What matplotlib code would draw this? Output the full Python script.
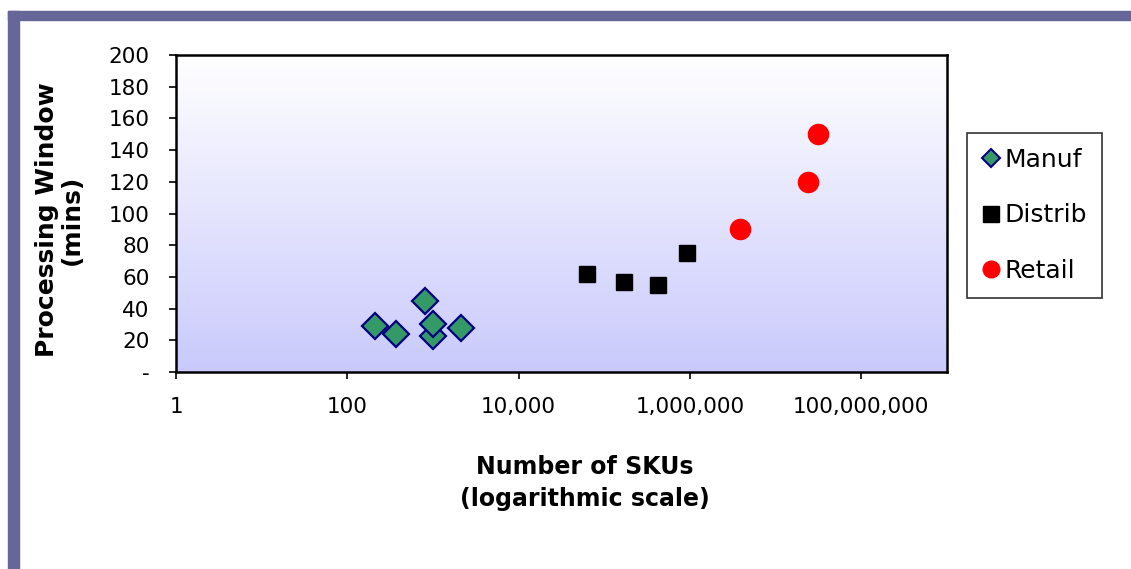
import numpy as np
import matplotlib
matplotlib.use('Agg')
import matplotlib.pyplot as plt
from matplotlib.ticker import FixedLocator, FixedFormatter
from matplotlib.lines import Line2D

# Datos
manuf_skus = [210, 370, 800, 1000, 1000, 2150]
manuf_win = [29, 24, 45, 23, 30, 28]

distrib_skus = [63000, 168000, 420000, 930000]
distrib_win = [62, 57, 55, 75]

retail_skus = [3.8e6, 2.4e7, 3.1e7]
retail_win = [90, 120, 150]

xtick_vals = [1, 100, 1e4, 1e6, 1e8]
xtick_labels = ['1', '100', '10,000', '1,000,000', '100,000,000']
ytick_vals = list(range(0, 201, 20))
ytick_labels = ['-'] + [str(v) for v in ytick_vals[1:]]

plt.rcParams['font.family'] = 'DejaVu Sans'

fig = plt.figure(figsize=(11.31, 5.69), dpi=100)

# Marco morado
borde = '#666699'
fig.patches.append(plt.Rectangle((8 / 1131, 0), 11 / 1131, 1 - 11 / 569,
                                 transform=fig.transFigure, color=borde, zorder=0))
fig.patches.append(plt.Rectangle((8 / 1131, 1 - 20 / 569), 1, 9 / 569,
                                 transform=fig.transFigure, color=borde, zorder=0))

ax = fig.add_axes([176 / 1131, 1 - 372 / 569, 771 / 1131, 317 / 569])
ax.set_xscale('log')
ax.set_xlim(1, 1e9)
ax.set_ylim(0, 200)

# Fondo degradado (blanco arriba, lila abajo)
grad = np.linspace(0, 1, 256).reshape(-1, 1)
top = np.array([1.0, 1.0, 1.0])
bot = np.array([0.79, 0.79, 0.99])
img = top + (bot - top) * grad[:, :, None]
ax.imshow(img, extent=[0, 1, 0, 1], transform=ax.transAxes, aspect='auto', zorder=0)

ax.plot(manuf_skus, manuf_win, 'D', ms=13, mfc='#339966', mec='#000080', mew=1.6,
        linestyle='none', zorder=3)
ax.plot(distrib_skus, distrib_win, 's', ms=11.5, mfc='black', mec='black',
        linestyle='none', zorder=3)
ax.plot(retail_skus, retail_win, 'o', ms=14.5, mfc='red', mec='red',
        linestyle='none', zorder=3)

ax.xaxis.set_major_locator(FixedLocator(xtick_vals))
ax.xaxis.set_major_formatter(FixedFormatter(xtick_labels))
ax.xaxis.set_minor_locator(FixedLocator([]))
ax.yaxis.set_major_locator(FixedLocator(ytick_vals))
ax.yaxis.set_major_formatter(FixedFormatter(ytick_labels))

ax.tick_params(axis='both', direction='out', length=5, width=1.2, labelsize=15.5,
               colors='black')
ax.tick_params(axis='x', pad=13)
ax.tick_params(axis='y', pad=14)
for s in ax.spines.values():
    s.set_linewidth(1.8)
    s.set_color('black')

fig.text(59 / 1131, 1 - 220 / 569, 'Processing Window\n(mins)', rotation=90,
         ha='center', va='center', fontsize=18, fontweight='bold', linespacing=1.05)
fig.text(585 / 1131, 1 - 483 / 569, 'Number of SKUs\n(logarithmic scale)',
         ha='center', va='center', fontsize=17, fontweight='bold', linespacing=1.4)

handles = [
    Line2D([], [], marker='D', ms=9, mfc='#339966', mec='#000080', mew=1.5, ls='none'),
    Line2D([], [], marker='s', ms=11, mfc='black', mec='black', ls='none'),
    Line2D([], [], marker='o', ms=12, mfc='red', mec='red', ls='none'),
]
leg = fig.legend(handles, ['Manuf', 'Distrib', 'Retail'],
                 loc='upper left', bbox_to_anchor=(967 / 1131, 1 - 133 / 569),
                 fontsize=18, frameon=True, fancybox=False, edgecolor='black',
                 handlelength=0.7, handletextpad=0.2, labelspacing=1.25,
                 borderpad=0.6, borderaxespad=0)
leg.get_frame().set_linewidth(1.2)

fig.savefig('out.png', dpi=100)
